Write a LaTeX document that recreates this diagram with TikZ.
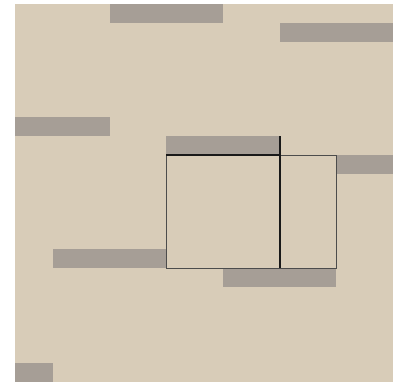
\documentclass[tikz,border=0pt]{standalone}
\usepackage{xcolor}
\usepackage{tikz}

\definecolor{arena}{RGB}{216,204,184}
\definecolor{losa}{RGB}{166,158,150}

\begin{document}
\begin{tikzpicture}[
    barra/.style={fill=losa},
    borde/.style={draw=black!70, line width=0.5pt},
    junta/.style={draw=black!90, line width=1.4pt}
]

\fill[white] (-0.4,-0.03) rectangle (10.13,10.1);
\useasboundingbox (-0.4,-0.03) rectangle (10.13,10.1);

\fill[arena] (0,0) rectangle (10,10); % fondo

% barras grises
\fill[barra] (2.5,9.5) rectangle (5.5,10);
\fill[barra] (7,9) rectangle (10,9.5);
\fill[barra] (0,6.5) rectangle (2.5,7);
\fill[barra] (4,6) rectangle (7,6.5);
\fill[barra] (8.5,5.5) rectangle (10,6);
\fill[barra] (1,3) rectangle (4,3.5);
\fill[barra] (5.5,2.5) rectangle (8.5,3);
\fill[barra] (0,0) rectangle (1,0.5);

% recuadro
\draw[borde] (4,3) rectangle (8.5,6);
\draw[junta] (4,6) -- (7,6);
\draw[junta] (7,3) -- (7,6.5);

\end{tikzpicture}
\end{document}
